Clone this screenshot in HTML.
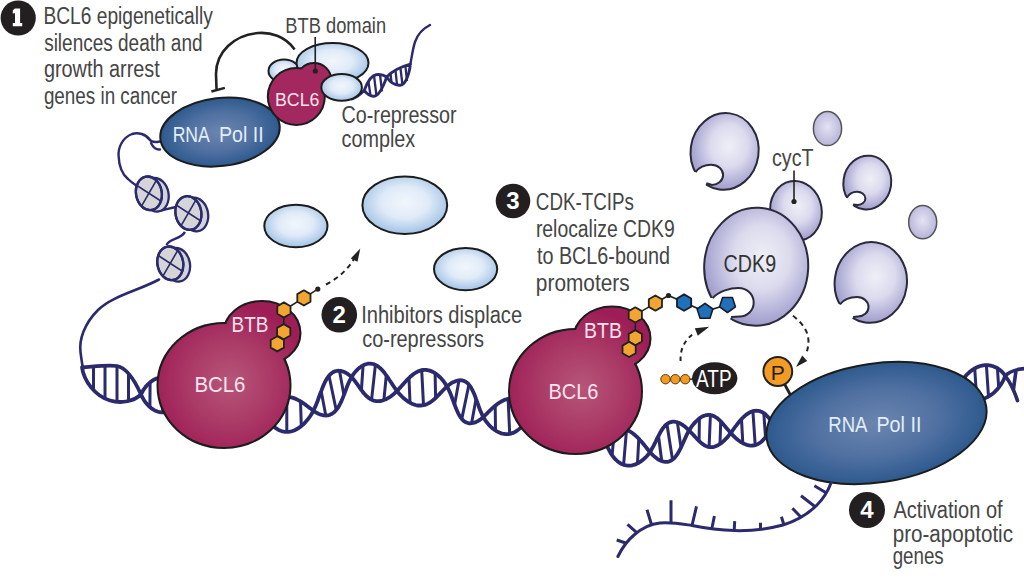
<!DOCTYPE html>
<html><head><meta charset="utf-8"><title>BCL6 CDK-TCIP mechanism</title>
<style>html,body{margin:0;padding:0;background:#fff;}svg{display:block;font-family:"Liberation Sans",sans-serif;}</style>
</head><body>
<svg width="1024" height="579" viewBox="0 0 1024 579">
<rect width="1024" height="579" fill="#fff"/>
<defs>
<radialGradient id="gBlue" cx="0.5" cy="0.45" r="0.55">
  <stop offset="0" stop-color="#f2f6fc"/><stop offset="0.5" stop-color="#e0ebf8"/><stop offset="1" stop-color="#a2c3e6"/>
</radialGradient>
<radialGradient id="gPol" cx="0.5" cy="0.5" r="0.55">
  <stop offset="0" stop-color="#6b85af"/><stop offset="0.5" stop-color="#5171a2"/><stop offset="0.85" stop-color="#335d91"/><stop offset="1" stop-color="#1e5283"/>
</radialGradient>
<radialGradient id="gBcl" cx="0.5" cy="0.5" r="0.55">
  <stop offset="0" stop-color="#b65a82"/><stop offset="0.6" stop-color="#a8386a"/><stop offset="1" stop-color="#991b55"/>
</radialGradient>
<radialGradient id="gBtb1" gradientUnits="userSpaceOnUse" cx="230" cy="382" r="78">
  <stop offset="0" stop-color="#b65679"/><stop offset="0.55" stop-color="#aa3966"/><stop offset="1" stop-color="#9d1e56"/>
</radialGradient>
<radialGradient id="gBtb2" gradientUnits="userSpaceOnUse" cx="581.5" cy="388" r="78">
  <stop offset="0" stop-color="#b65679"/><stop offset="0.55" stop-color="#aa3966"/><stop offset="1" stop-color="#9d1e56"/>
</radialGradient>
<radialGradient id="gBcl0" cx="0.5" cy="0.55" r="0.6">
  <stop offset="0" stop-color="#b04a76"/><stop offset="1" stop-color="#9c1f57"/>
</radialGradient>
<radialGradient id="gCdk" cx="0.55" cy="0.42" r="0.6">
  <stop offset="0" stop-color="#efeff7"/><stop offset="0.45" stop-color="#dcdbee"/><stop offset="1" stop-color="#9b98ca"/>
</radialGradient>
<radialGradient id="gCyc" cx="0.5" cy="0.45" r="0.6">
  <stop offset="0" stop-color="#e4e3f2"/><stop offset="1" stop-color="#b3b0d8"/>
</radialGradient>
<radialGradient id="gNuc" cx="0.5" cy="0.5" r="0.6">
  <stop offset="0" stop-color="#d9d9d9"/><stop offset="1" stop-color="#cfcfd2"/>
</radialGradient>
</defs>
<path d="M149.9 407 L150.1 382.3 M162.9 412.4 L163.1 377.4 M177.2 407.5 L177.2 382.7 M201.8 406.8 L201.4 382.1 M213.4 411 L212.7 376 M223.3 405 L222.7 380.3" stroke="#2b2a6c" stroke-width="3.0" fill="none"/>
<path d="M141 394.5 L141.7 393.1 L142.4 391.8 L143.1 390.4 L144 389.1 L144.9 387.9 L145.8 386.6 L146.8 385.5 L147.9 384.3 L149 383.3 L150.1 382.3 L151.3 381.4 L152.5 380.6 L153.7 379.8 L155 379.2 L156.3 378.6 L157.6 378.2 L158.9 377.8 L160.3 377.6 L161.7 377.5 L163.1 377.4 L164.5 377.5 L165.9 377.7 L167.3 378 L168.8 378.4 L170.2 378.9 L171.6 379.5 L173 380.2 L174.4 380.9 L175.9 381.8 L177.2 382.7 L178.6 383.7 L180 384.8 L181.3 386 L182.7 387.2 L184 388.4 L185.2 389.7 L186.5 391 L187.7 392.3 L188.9 393.7 L190 395 L190 395 L191.1 396.3 L192.3 397.7 L193.4 399 L194.6 400.2 L195.8 401.5 L197 402.7 L198.2 403.8 L199.4 404.9 L200.6 405.9 L201.8 406.8 L203 407.7 L204.2 408.4 L205.4 409.1 L206.6 409.7 L207.7 410.2 L208.9 410.5 L210.1 410.8 L211.2 411 L212.3 411.1 L213.4 411 L214.5 410.9 L215.6 410.6 L216.7 410.3 L217.7 409.8 L218.7 409.2 L219.7 408.6 L220.6 407.8 L221.6 406.9 L222.4 406 L223.3 405 L224.1 403.9 L224.9 402.7 L225.7 401.5 L226.4 400.3 L227.1 399 L227.8 397.6 L228.4 396.2 L229 394.8 L229.5 393.4 L230 392" fill="none" stroke="#2b2a6c" stroke-width="3.8" stroke-linejoin="round" stroke-linecap="round"/>
<path d="M141 394.5 L141.6 395.9 L142.3 397.3 L143.1 398.6 L143.9 400 L144.8 401.3 L145.7 402.5 L146.7 403.7 L147.8 404.9 L148.8 406 L149.9 407 L151.1 408 L152.3 408.9 L153.5 409.7 L154.8 410.4 L156.1 411 L157.4 411.5 L158.8 411.9 L160.1 412.2 L161.5 412.4 L162.9 412.4 L164.3 412.4 L165.8 412.3 L167.2 412 L168.6 411.7 L170.1 411.2 L171.5 410.7 L173 410 L174.4 409.2 L175.8 408.4 L177.2 407.5 L178.6 406.5 L180 405.4 L181.3 404.3 L182.7 403.1 L184 401.8 L185.3 400.5 L186.5 399.2 L187.7 397.8 L188.9 396.4 L190 395 L190 395 L191.1 393.6 L192.2 392.2 L193.3 390.8 L194.5 389.4 L195.6 388.1 L196.8 386.8 L197.9 385.5 L199.1 384.3 L200.2 383.1 L201.4 382.1 L202.5 381 L203.7 380.1 L204.8 379.3 L206 378.5 L207.1 377.8 L208.2 377.3 L209.4 376.8 L210.5 376.4 L211.6 376.2 L212.7 376 L213.8 376 L214.8 376.1 L215.9 376.2 L216.9 376.5 L218 376.9 L219 377.4 L219.9 378 L220.9 378.6 L221.8 379.4 L222.7 380.3 L223.6 381.2 L224.5 382.2 L225.3 383.2 L226.1 384.4 L226.8 385.6 L227.5 386.8 L228.2 388.1 L228.9 389.3 L229.5 390.7 L230 392" fill="none" stroke="#2b2a6c" stroke-width="3.8" stroke-linejoin="round" stroke-linecap="round"/>
<path d="M82 367.5 C95 366.5 108 364.5 117 366 C127 368 135 381 141 394.5 M82 367.5 C84 381 95 396 110 400.5 C122 404 134 401 141 394.5" fill="none" stroke="#2b2a6c" stroke-width="3.8" stroke-linecap="round"/>
<path d="M93.5 366.5 L93.5 390 M105 365.3 L105 399.5 M117 366 L117 402.5 M128.5 373 L128.5 402" stroke="#2b2a6c" stroke-width="3"/>
<path d="M273.8 426.5 L274.1 401.7 M286.8 431.9 L286.8 396.9 M301.3 426.1 L300.5 401.4 M325.8 415.5 L321.2 391.2 M336.2 410 L329 375.8 M343.9 395.1 L339.5 370.8 M361.4 390.1 L363.1 365.4 M371.6 399.7 L375.4 364.9 M383.9 400 L386.3 375.4 M410 402.7 L409 378 M423.5 405.2 L421.7 370.2 M435.6 398 L435.1 373.2 M454.6 404.7 L459 380.3 M461.8 418.9 L468.9 384.7 M471.6 423.2 L476 398.9 M495.5 430.5 L495.2 405.8 M509.7 433.9 L508.1 398.9 M522.1 426.1 L520.7 401.4" stroke="#2b2a6c" stroke-width="3.0" fill="none"/>
<path d="M265 414 L265.7 415.3 L266.4 416.7 L267.1 418 L267.9 419.3 L268.8 420.6 L269.7 421.9 L270.6 423.1 L271.7 424.3 L272.7 425.4 L273.8 426.5 L275 427.5 L276.2 428.4 L277.4 429.2 L278.6 429.9 L279.9 430.5 L281.3 431 L282.6 431.4 L284 431.7 L285.4 431.9 L286.8 431.9 L288.2 431.9 L289.7 431.7 L291.1 431.4 L292.6 431 L294.1 430.5 L295.5 429.8 L297 429 L298.4 428.2 L299.9 427.2 L301.3 426.1 L302.7 424.9 L304 423.6 L305.3 422.3 L306.6 420.8 L307.9 419.3 L309.1 417.7 L310.3 416 L311.4 414.3 L312.4 412.5 L313.4 410.7 L313.4 410.7 L314.3 408.8 L315.2 406.9 L316 405 L316.8 403 L317.6 401 L318.3 399 L319 397 L319.7 395.1 L320.4 393.1 L321.2 391.2 L321.9 389.3 L322.6 387.5 L323.3 385.7 L324.1 384.1 L324.8 382.4 L325.6 380.9 L326.4 379.5 L327.3 378.1 L328.1 376.9 L329 375.8 L329.9 374.7 L330.9 373.8 L331.9 373 L332.9 372.3 L333.9 371.8 L335 371.3 L336.1 371 L337.2 370.8 L338.3 370.7 L339.5 370.8 L340.7 370.9 L341.9 371.2 L343.1 371.6 L344.3 372.1 L345.6 372.7 L346.8 373.4 L348 374.2 L349.2 375.1 L350.4 376.1 L351.5 377.2 L351.5 377.2 L352.6 378.4 L353.7 379.6 L354.7 380.8 L355.7 382.2 L356.7 383.5 L357.7 384.8 L358.6 386.2 L359.5 387.5 L360.5 388.8 L361.4 390.1 L362.4 391.3 L363.3 392.6 L364.3 393.7 L365.3 394.8 L366.3 395.8 L367.3 396.8 L368.3 397.6 L369.4 398.4 L370.5 399.1 L371.6 399.7 L372.7 400.2 L373.9 400.6 L375.1 400.9 L376.3 401.1 L377.5 401.2 L378.8 401.1 L380 401 L381.3 400.8 L382.6 400.5 L383.9 400 L385.3 399.5 L386.6 398.9 L387.9 398.2 L389.3 397.4 L390.6 396.5 L391.9 395.5 L393.2 394.5 L394.5 393.4 L395.8 392.2 L397 391 L397 391 L398.2 389.7 L399.4 388.4 L400.6 387.1 L401.8 385.7 L403 384.4 L404.2 383 L405.4 381.7 L406.6 380.4 L407.8 379.2 L409 378 L410.2 376.8 L411.5 375.7 L412.7 374.7 L413.9 373.8 L415.2 373 L416.5 372.2 L417.7 371.6 L419 371 L420.3 370.6 L421.7 370.2 L423 370 L424.3 369.9 L425.7 369.9 L427 370 L428.4 370.3 L429.7 370.6 L431.1 371.1 L432.4 371.7 L433.8 372.4 L435.1 373.2 L436.4 374.1 L437.7 375.2 L439 376.3 L440.3 377.5 L441.5 378.8 L442.7 380.2 L443.8 381.7 L444.9 383.2 L446 384.8 L447 386.5 L447 386.5 L447.9 388.2 L448.8 390 L449.7 391.8 L450.5 393.7 L451.2 395.5 L451.9 397.4 L452.6 399.2 L453.3 401.1 L453.9 402.9 L454.6 404.7 L455.3 406.4 L455.9 408.1 L456.6 409.7 L457.3 411.3 L458 412.8 L458.7 414.2 L459.4 415.5 L460.2 416.7 L461 417.9 L461.8 418.9 L462.6 419.8 L463.5 420.7 L464.4 421.4 L465.3 422 L466.3 422.5 L467.3 422.8 L468.3 423.1 L469.4 423.3 L470.5 423.3 L471.6 423.2 L472.7 423 L473.9 422.8 L475.1 422.4 L476.2 421.9 L477.4 421.3 L478.6 420.6 L479.8 419.8 L481 419 L482.2 418 L483.3 417 L483.3 417 L484.4 415.9 L485.6 414.8 L486.8 413.7 L487.9 412.5 L489.1 411.3 L490.3 410.2 L491.5 409 L492.7 407.9 L494 406.8 L495.2 405.8 L496.5 404.7 L497.7 403.8 L499 402.9 L500.3 402.1 L501.6 401.3 L502.9 400.7 L504.2 400.1 L505.5 399.6 L506.8 399.2 L508.1 398.9 L509.4 398.7 L510.7 398.6 L512 398.6 L513.3 398.7 L514.6 398.9 L515.8 399.2 L517.1 399.6 L518.3 400.1 L519.5 400.7 L520.7 401.4 L521.8 402.1 L522.9 403 L524 403.9 L525 404.9 L526 405.9 L526.9 407.1 L527.8 408.2 L528.6 409.4 L529.3 410.7 L530 412" fill="none" stroke="#2b2a6c" stroke-width="3.8" stroke-linejoin="round" stroke-linecap="round"/>
<path d="M265 414 L265.6 412.6 L266.3 411.2 L267.1 409.9 L267.9 408.5 L268.8 407.3 L269.8 406 L270.8 404.9 L271.8 403.7 L272.9 402.7 L274.1 401.7 L275.2 400.9 L276.4 400 L277.6 399.3 L278.9 398.7 L280.2 398.2 L281.5 397.7 L282.8 397.4 L284.1 397.1 L285.5 397 L286.8 396.9 L288.2 397 L289.6 397.1 L290.9 397.4 L292.3 397.7 L293.7 398.1 L295.1 398.6 L296.4 399.2 L297.8 399.9 L299.2 400.6 L300.5 401.4 L301.9 402.2 L303.2 403.1 L304.5 404 L305.8 404.9 L307.1 405.9 L308.4 406.9 L309.7 407.9 L310.9 408.8 L312.2 409.8 L313.4 410.7 L313.4 410.7 L314.6 411.6 L315.9 412.4 L317.1 413.1 L318.4 413.7 L319.6 414.2 L320.9 414.7 L322.2 415 L323.4 415.3 L324.6 415.4 L325.8 415.5 L327 415.4 L328.1 415.3 L329.2 415 L330.3 414.6 L331.4 414.1 L332.4 413.5 L333.4 412.8 L334.4 412 L335.3 411 L336.2 410 L337.1 408.9 L338 407.7 L338.8 406.3 L339.6 404.9 L340.3 403.5 L341.1 401.9 L341.8 400.3 L342.5 398.6 L343.2 396.9 L343.9 395.1 L344.6 393.3 L345.2 391.5 L345.9 389.7 L346.6 387.8 L347.3 386 L348.1 384.1 L348.9 382.3 L349.7 380.6 L350.6 378.9 L351.5 377.2 L351.5 377.2 L352.5 375.6 L353.5 374.1 L354.6 372.7 L355.7 371.3 L356.9 370.1 L358.1 368.9 L359.3 367.9 L360.6 367 L361.8 366.1 L363.1 365.4 L364.3 364.8 L365.6 364.3 L366.9 364 L368.1 363.7 L369.4 363.6 L370.6 363.6 L371.9 363.8 L373.1 364 L374.3 364.4 L375.4 364.9 L376.6 365.5 L377.7 366.2 L378.9 367.1 L380 368 L381.1 369 L382.1 370.1 L383.2 371.3 L384.3 372.6 L385.3 374 L386.3 375.4 L387.4 376.9 L388.4 378.4 L389.4 380 L390.5 381.5 L391.5 383.1 L392.6 384.8 L393.6 386.3 L394.7 387.9 L395.9 389.5 L397 391 L397 391 L398.2 392.5 L399.4 393.9 L400.6 395.2 L401.9 396.5 L403.2 397.8 L404.6 398.9 L405.9 400 L407.3 401 L408.6 401.9 L410 402.7 L411.4 403.4 L412.7 404 L414.1 404.5 L415.5 405 L416.9 405.3 L418.2 405.5 L419.5 405.5 L420.9 405.5 L422.2 405.4 L423.5 405.2 L424.8 404.9 L426 404.4 L427.3 403.9 L428.5 403.3 L429.7 402.6 L430.9 401.8 L432.1 400.9 L433.3 400 L434.5 399 L435.6 398 L436.8 396.9 L437.9 395.7 L439 394.6 L440.1 393.4 L441.3 392.2 L442.4 391 L443.5 389.8 L444.7 388.7 L445.8 387.6 L447 386.5 L447 386.5 L448.2 385.5 L449.4 384.6 L450.6 383.7 L451.8 382.9 L453 382.2 L454.3 381.7 L455.5 381.2 L456.7 380.8 L457.8 380.5 L459 380.3 L460.1 380.2 L461.2 380.3 L462.3 380.4 L463.3 380.7 L464.4 381.1 L465.3 381.6 L466.3 382.2 L467.2 382.9 L468.1 383.7 L468.9 384.7 L469.8 385.7 L470.5 386.8 L471.3 388.1 L472 389.4 L472.7 390.8 L473.4 392.3 L474.1 393.8 L474.8 395.5 L475.4 397.1 L476 398.9 L476.7 400.7 L477.3 402.5 L478 404.3 L478.6 406.2 L479.3 408 L480 409.9 L480.8 411.7 L481.6 413.5 L482.4 415.3 L483.3 417 L483.3 417 L484.3 418.7 L485.3 420.3 L486.4 421.8 L487.6 423.3 L488.8 424.7 L490.1 426.1 L491.4 427.3 L492.7 428.5 L494.1 429.5 L495.5 430.5 L496.9 431.4 L498.3 432.1 L499.8 432.7 L501.2 433.3 L502.6 433.7 L504.1 433.9 L505.5 434.1 L506.9 434.2 L508.3 434.1 L509.7 433.9 L511.1 433.6 L512.4 433.1 L513.8 432.6 L515.1 432 L516.3 431.2 L517.5 430.4 L518.7 429.4 L519.9 428.4 L521 427.3 L522.1 426.1 L523.1 424.8 L524.1 423.5 L525 422.2 L525.8 420.8 L526.7 419.3 L527.4 417.9 L528.2 416.4 L528.8 414.9 L529.4 413.4 L530 412" fill="none" stroke="#2b2a6c" stroke-width="3.8" stroke-linejoin="round" stroke-linecap="round"/>
<path d="M612.1 455.3 L614.4 430.6 M623.6 464.8 L626.5 429.9 M637.5 463.4 L638.8 438.7 M661.7 461 L658.5 435.8 M672.5 459.6 L666.9 424.1 M681 447.6 L677.4 422.4 M699.1 441 L699.4 418.4 M709.1 447 L710.4 415 M720 444 L720.7 421.4 M742.8 443.1 L741.5 419.1 M755.2 445.1 L752.9 411.2 M765.5 437.1 L763.8 413.1" stroke="#2b2a6c" stroke-width="3.0" fill="none"/>
<path d="M605 440 L605.7 438.8 L606.5 437.6 L607.3 436.5 L608.2 435.5 L609.1 434.5 L610.1 433.6 L611.1 432.7 L612.1 431.9 L613.2 431.2 L614.4 430.6 L615.5 430.1 L616.7 429.7 L617.9 429.3 L619.1 429.1 L620.3 429 L621.5 429 L622.8 429 L624 429.2 L625.2 429.5 L626.5 429.9 L627.8 430.4 L629 431 L630.2 431.7 L631.5 432.4 L632.7 433.3 L633.9 434.2 L635.2 435.3 L636.4 436.4 L637.6 437.5 L638.8 438.7 L639.9 440 L641.1 441.3 L642.2 442.6 L643.4 444 L644.5 445.3 L645.6 446.7 L646.7 448.1 L647.8 449.4 L648.9 450.7 L650 452 L650 452 L651.1 453.3 L652.2 454.5 L653.4 455.6 L654.6 456.6 L655.7 457.6 L656.9 458.5 L658.1 459.3 L659.3 460 L660.5 460.6 L661.7 461 L662.9 461.4 L664 461.7 L665.2 461.8 L666.3 461.9 L667.4 461.8 L668.5 461.6 L669.5 461.3 L670.6 460.8 L671.6 460.3 L672.5 459.6 L673.5 458.8 L674.4 458 L675.3 457 L676.1 455.9 L677 454.7 L677.8 453.4 L678.6 452.1 L679.4 450.6 L680.2 449.1 L681 447.6 L681.7 446 L682.5 444.3 L683.2 442.6 L684 440.9 L684.8 439.1 L685.6 437.4 L686.4 435.6 L687.2 433.9 L688.1 432.2 L689 430.5 L689 430.5 L690 429 L690.9 427.6 L691.9 426.2 L692.9 424.9 L694 423.6 L695.1 422.4 L696.1 421.3 L697.2 420.3 L698.3 419.3 L699.4 418.4 L700.5 417.6 L701.6 416.9 L702.8 416.3 L703.9 415.8 L705 415.5 L706.1 415.2 L707.2 415 L708.3 414.9 L709.4 414.9 L710.4 415 L711.5 415.3 L712.5 415.6 L713.6 416 L714.6 416.5 L715.6 417.2 L716.7 417.8 L717.7 418.6 L718.7 419.5 L719.7 420.4 L720.7 421.4 L721.7 422.4 L722.6 423.5 L723.6 424.6 L724.6 425.8 L725.6 427 L726.6 428.2 L727.7 429.4 L728.7 430.6 L729.7 431.8 L730.8 433 L730.8 433 L731.9 434.2 L733 435.4 L734.2 436.6 L735.3 437.7 L736.5 438.8 L737.7 439.8 L739 440.7 L740.2 441.6 L741.5 442.4 L742.8 443.1 L744 443.8 L745.3 444.3 L746.6 444.8 L747.8 445.1 L749.1 445.4 L750.3 445.6 L751.6 445.6 L752.8 445.5 L754 445.4 L755.2 445.1 L756.3 444.7 L757.5 444.3 L758.6 443.7 L759.6 443 L760.7 442.2 L761.7 441.4 L762.7 440.4 L763.7 439.4 L764.6 438.3 L765.5 437.1 L766.3 435.8 L767.1 434.5 L767.9 433.2 L768.6 431.8 L769.3 430.3 L769.9 428.9 L770.5 427.4 L771 425.9 L771.5 424.5 L772 423" fill="none" stroke="#2b2a6c" stroke-width="3.8" stroke-linejoin="round" stroke-linecap="round"/>
<path d="M605 440 L605.5 441.5 L606 443.1 L606.6 444.7 L607.2 446.3 L607.9 447.8 L608.7 449.4 L609.5 450.9 L610.3 452.4 L611.2 453.9 L612.1 455.3 L613.1 456.6 L614.1 457.9 L615.2 459.1 L616.3 460.2 L617.4 461.2 L618.6 462.1 L619.8 462.9 L621 463.7 L622.3 464.3 L623.6 464.8 L625 465.2 L626.3 465.4 L627.7 465.6 L629.1 465.6 L630.5 465.6 L631.9 465.4 L633.3 465 L634.7 464.6 L636.1 464.1 L637.5 463.4 L638.9 462.7 L640.2 461.8 L641.6 460.9 L642.9 459.8 L644.2 458.7 L645.5 457.5 L646.7 456.2 L647.8 454.9 L649 453.5 L650 452 L650 452 L651 450.4 L651.9 448.8 L652.8 447.2 L653.7 445.6 L654.5 443.9 L655.4 442.2 L656.2 440.6 L656.9 438.9 L657.7 437.3 L658.5 435.8 L659.3 434.3 L660.1 432.8 L660.9 431.4 L661.7 430.1 L662.5 428.9 L663.3 427.7 L664.2 426.7 L665 425.7 L665.9 424.8 L666.9 424.1 L667.8 423.4 L668.8 422.8 L669.8 422.4 L670.8 422.1 L671.9 421.8 L672.9 421.7 L674 421.7 L675.1 421.8 L676.3 422 L677.4 422.4 L678.6 422.8 L679.8 423.3 L680.9 423.9 L682.1 424.6 L683.3 425.4 L684.5 426.3 L685.6 427.2 L686.8 428.3 L687.9 429.4 L689 430.5 L689 430.5 L690.1 431.5 L691.1 432.6 L692.2 433.7 L693.2 434.8 L694.2 435.9 L695.2 437 L696.2 438 L697.2 439.1 L698.1 440.1 L699.1 441 L700.1 442 L701.1 442.8 L702 443.6 L703 444.3 L704 445 L705 445.6 L706 446.1 L707 446.5 L708.1 446.8 L709.1 447 L710.1 447.1 L711.2 447.2 L712.3 447.1 L713.4 447 L714.4 446.7 L715.5 446.3 L716.6 445.9 L717.8 445.3 L718.9 444.7 L720 444 L721.1 443.2 L722.2 442.3 L723.3 441.4 L724.4 440.3 L725.5 439.2 L726.6 438.1 L727.7 436.9 L728.7 435.6 L729.8 434.3 L730.8 433 L730.8 433 L731.8 431.6 L732.8 430.1 L733.9 428.7 L734.9 427.2 L736 425.8 L737.1 424.4 L738.2 423 L739.2 421.7 L740.4 420.4 L741.5 419.1 L742.6 418 L743.7 416.9 L744.9 415.8 L746 414.9 L747.1 414.1 L748.3 413.3 L749.4 412.6 L750.6 412 L751.7 411.6 L752.9 411.2 L754 410.9 L755.1 410.8 L756.3 410.7 L757.4 410.8 L758.5 410.9 L759.6 411.1 L760.7 411.5 L761.7 411.9 L762.7 412.5 L763.8 413.1 L764.7 413.8 L765.7 414.6 L766.6 415.5 L767.5 416.4 L768.4 417.4 L769.2 418.4 L770 419.5 L770.7 420.6 L771.4 421.8 L772 423" fill="none" stroke="#2b2a6c" stroke-width="3.8" stroke-linejoin="round" stroke-linecap="round"/>
<path d="M965.8 396.7 L964.5 377.3 M976.8 399.7 L974.7 368.4 M988.5 396.5 L986.4 365.2 M998.7 387.6 L997.4 368.2" stroke="#2b2a6c" stroke-width="3.0" fill="none"/>
<path d="M958 389 L958.7 390.1 L959.5 391.2 L960.4 392.2 L961.4 393.2 L962.4 394.2 L963.5 395.1 L964.6 395.9 L965.8 396.7 L967.1 397.4 L968.4 398 L969.7 398.5 L971.1 398.9 L972.5 399.3 L973.9 399.5 L975.3 399.7 L976.8 399.7 L978.3 399.7 L979.8 399.5 L981.2 399.3 L982.7 398.9 L984.2 398.5 L985.6 397.9 L987.1 397.2 L988.5 396.5 L989.9 395.6 L991.3 394.7 L992.6 393.7 L993.9 392.6 L995.2 391.4 L996.4 390.2 L997.6 388.9 L998.7 387.6 L999.7 386.2 L1000.7 384.8 L1001.7 383.3 L1002.5 381.8 L1003.3 380.3 L1004 378.9 L1004.7 377.4 L1005.2 375.9" fill="none" stroke="#2b2a6c" stroke-width="3.8" stroke-linejoin="round" stroke-linecap="round"/>
<path d="M958 389 L958.5 387.5 L959.2 386 L959.9 384.6 L960.7 383.1 L961.5 381.6 L962.5 380.1 L963.5 378.7 L964.5 377.3 L965.6 376 L966.8 374.7 L968 373.5 L969.3 372.3 L970.6 371.2 L971.9 370.2 L973.3 369.3 L974.7 368.4 L976.1 367.7 L977.6 367 L979 366.4 L980.5 366 L982 365.6 L983.4 365.4 L984.9 365.2 L986.4 365.2 L987.9 365.2 L989.3 365.4 L990.7 365.6 L992.1 366 L993.5 366.4 L994.8 366.9 L996.1 367.5 L997.4 368.2 L998.6 369 L999.7 369.8 L1000.8 370.7 L1001.8 371.7 L1002.8 372.7 L1003.7 373.7 L1004.5 374.8 L1005.2 375.9" fill="none" stroke="#2b2a6c" stroke-width="3.8" stroke-linejoin="round" stroke-linecap="round"/>
<path d="M1005.2 375.9 C1010 371 1016 369 1026 368.5 M1005.2 375.9 C1010 382 1014 390 1017.5 400.6 M1016 370.5 L1013.5 389" fill="none" stroke="#2b2a6c" stroke-width="3.6" stroke-linecap="round"/>
<path d="M159 279.5 C140 290 112 296 98 310 C84 324 79 340 80.5 352 C81.5 360 82 364 83 368" fill="none" stroke="#2b2a6c" stroke-width="2.6" stroke-linecap="round"/>
<path d="M160 141.5 C156 142 152 143 150 140 C146 134 138 132 132 134 C122 138 118 148 118.6 156 C119 166 122 174 128 179 C131 182 134 184 137 186" fill="none" stroke="#2b2a6c" stroke-width="2.4" stroke-linecap="round"/>
<path d="M160 149.5 C156 150 153 147 151 143" fill="none" stroke="#2b2a6c" stroke-width="2.4" stroke-linecap="round"/>
<path d="M154 210.5 C162 212 168 208 176 207" fill="none" stroke="#2b2a6c" stroke-width="2.4"/>
<path d="M185 232 C180 240 170 238 166.5 245" fill="none" stroke="#2b2a6c" stroke-width="2.4"/>
<clipPath id="nc1"><ellipse cx="148.9" cy="193.3" rx="12.9" ry="16.9" transform="rotate(-10 148.9 193.3)"/></clipPath><ellipse cx="155.7" cy="194.8" rx="12.9" ry="16.9" transform="rotate(-10 155.7 194.8)" fill="#d3d3da" stroke="#2b2a6c" stroke-width="2.3"/><ellipse cx="148.9" cy="193.3" rx="12.9" ry="16.9" transform="rotate(-10 148.9 193.3)" fill="#d5d5d7" stroke="#2b2a6c" stroke-width="2.3"/><path d="M127.9 179.7 L169.9 206.9 M136.4 215 L161.4 171.6 " stroke="#2b2a6c" stroke-width="1.6" clip-path="url(#nc1)"/><ellipse cx="148.9" cy="193.3" rx="12.9" ry="16.9" transform="rotate(-10 148.9 193.3)" fill="none" stroke="#2b2a6c" stroke-width="2.3"/>
<clipPath id="nc2"><ellipse cx="188.4" cy="213" rx="12.9" ry="16.9" transform="rotate(-10 188.4 213)"/></clipPath><ellipse cx="195.2" cy="214.5" rx="12.9" ry="16.9" transform="rotate(-10 195.2 214.5)" fill="#d3d3da" stroke="#2b2a6c" stroke-width="2.3"/><ellipse cx="188.4" cy="213" rx="12.9" ry="16.9" transform="rotate(-10 188.4 213)" fill="#d5d5d7" stroke="#2b2a6c" stroke-width="2.3"/><path d="M167.4 199.4 L209.4 226.6 M175.9 234.7 L200.9 191.3 " stroke="#2b2a6c" stroke-width="1.6" clip-path="url(#nc2)"/><ellipse cx="188.4" cy="213" rx="12.9" ry="16.9" transform="rotate(-10 188.4 213)" fill="none" stroke="#2b2a6c" stroke-width="2.3"/>
<clipPath id="nc3"><ellipse cx="170.3" cy="263.3" rx="12.9" ry="16.9" transform="rotate(-10 170.3 263.3)"/></clipPath><ellipse cx="177.1" cy="264.8" rx="12.9" ry="16.9" transform="rotate(-10 177.1 264.8)" fill="#d3d3da" stroke="#2b2a6c" stroke-width="2.3"/><ellipse cx="170.3" cy="263.3" rx="12.9" ry="16.9" transform="rotate(-10 170.3 263.3)" fill="#d5d5d7" stroke="#2b2a6c" stroke-width="2.3"/><path d="M149.3 249.7 L191.3 276.9 M157.8 285 L182.8 241.6 " stroke="#2b2a6c" stroke-width="1.6" clip-path="url(#nc3)"/><ellipse cx="170.3" cy="263.3" rx="12.9" ry="16.9" transform="rotate(-10 170.3 263.3)" fill="none" stroke="#2b2a6c" stroke-width="2.3"/>
<path d="M352 99 C357 97 361 94 364.2 90.4 M364.2 90.4 C367 83 371 75.5 376 74.8 C381 74 384.5 75.5 386.7 77 M364.2 90.4 C367 94 370 96.5 374 96.3 C379 96 383.5 86 386.7 77 M386.7 77 C393 70 400 67 410.4 64.1 M386.7 77 C390 82 395 85.5 400 85.2 C405 85 409 76 410.4 64.1" fill="none" stroke="#2b2a6c" stroke-width="2.9" stroke-linecap="round"/>
<path d="M368.5 82 L370.5 95.5 M374 75.5 L376.5 96 M380 74.5 L382 91.5 M390.5 73.5 L391.5 82.5 M395.5 70.5 L397 85 M400.5 68.5 L402.5 85 M405.5 66.8 L407 81" stroke="#2b2a6c" stroke-width="2.3"/>
<path d="M410.4 64.1 C412 55 413 48 415 42 C418 33 424 28 430 25" fill="none" stroke="#2b2a6c" stroke-width="2.4" stroke-linecap="round"/>
<path d="M294.6 49.4 C285 36 270 32 258 33 C234 35 216 52 216 74 L216.5 89" fill="none" stroke="#222" stroke-width="2.6"/>
<path d="M211.4 91.5 L224.9 87.8" stroke="#222" stroke-width="2.4"/>
<ellipse cx="220" cy="132.1" rx="60" ry="34" transform="rotate(-6.7 220 132.1)" fill="url(#gPol)" stroke="#1c1c1c" stroke-width="2"/>
<text x="172.64" y="141.7" font-size="22.5" fill="#e2edf8" font-weight="normal" text-anchor="start" textLength="37.21" lengthAdjust="spacingAndGlyphs">RNA</text>
<text x="219.02" y="141.7" font-size="22.5" fill="#e2edf8" font-weight="normal" text-anchor="start" textLength="44.69" lengthAdjust="spacingAndGlyphs">Pol II</text>
<ellipse cx="284" cy="71" rx="15.5" ry="11.5" fill="url(#gBlue)" stroke="#1c1c1c" stroke-width="2"/>
<ellipse cx="332.5" cy="63" rx="36" ry="20" fill="url(#gBlue)" stroke="#1c1c1c" stroke-width="2"/>
<g><circle cx="296.3" cy="96.5" r="27.5" fill="none" stroke="#1c1c1c" stroke-width="4"/><circle cx="314" cy="80.5" r="16.5" fill="none" stroke="#1c1c1c" stroke-width="4"/>
<circle cx="296.3" cy="96.5" r="27.5" fill="#a3285f"/><circle cx="314" cy="80.5" r="16.5" fill="#a3285f"/></g>
<ellipse cx="341.6" cy="87.4" rx="20.3" ry="13.4" fill="url(#gBlue)" stroke="#1c1c1c" stroke-width="2"/>
<text x="274.98" y="106" font-size="19" fill="#fbe3ee" font-weight="normal" text-anchor="start" textLength="44.43" lengthAdjust="spacingAndGlyphs">BCL6</text>
<path d="M315.2 37 L315.3 71" stroke="#222" stroke-width="1.6"/><circle cx="315.3" cy="71" r="2.6" fill="#222"/>
<ellipse cx="295.9" cy="226" rx="31.6" ry="21.2" fill="url(#gBlue)" stroke="#1c1c1c" stroke-width="2"/>
<ellipse cx="404.8" cy="205.2" rx="42.4" ry="28.7" fill="url(#gBlue)" stroke="#1c1c1c" stroke-width="2"/>
<ellipse cx="465.6" cy="269.1" rx="31.6" ry="21.1" fill="url(#gBlue)" stroke="#1c1c1c" stroke-width="2"/>
<path d="M326 284.5 C336 279 346 272 354 259" fill="none" stroke="#222" stroke-width="2" stroke-dasharray="5 4"/>
<path d="M360.3 248.5 L350.7 258.5 L357.5 261.8 Z" fill="#222"/>
<g><ellipse cx="224" cy="385.5" rx="65.5" ry="61.5" fill="none" stroke="#1c1c1c" stroke-width="4"/><ellipse cx="262" cy="333" rx="37.5" ry="31" fill="none" stroke="#1c1c1c" stroke-width="4"/><ellipse cx="262" cy="333" rx="37.5" ry="31" fill="url(#gBtb1)"/><ellipse cx="224" cy="385.5" rx="65.5" ry="61.5" fill="url(#gBtb1)"/></g>
<text x="194.42" y="392.2" font-size="22" fill="#fbe3ee" font-weight="normal" text-anchor="start" textLength="51.05" lengthAdjust="spacingAndGlyphs">BCL6</text>
<text x="231.60" y="331.7" font-size="22.5" fill="#fbe3ee" font-weight="normal" text-anchor="start" textLength="36.91" lengthAdjust="spacingAndGlyphs">BTB</text>
<path d="M283.9 310 L303.9 297.9 L317.8 289.1 M283.9 310 L283.7 331.7" stroke="#222" stroke-width="1.6" fill="none"/>
<circle cx="317.8" cy="289.1" r="2.6" fill="#222"/>
<path d="M283.9 302.4 L277.3 306.2 L277.3 313.8 L283.9 317.6 L290.5 313.8 L290.5 306.2 Z" fill="#f4a52f" stroke="#222" stroke-width="1.8" stroke-linejoin="round"/>
<path d="M303.9 290.3 L297.3 294.1 L297.3 301.7 L303.9 305.5 L310.5 301.7 L310.5 294.1 Z" fill="#f4a52f" stroke="#222" stroke-width="1.8" stroke-linejoin="round"/>
<path d="M283.7 324.1 L277.1 327.9 L277.1 335.5 L283.7 339.3 L290.3 335.5 L290.3 327.9 Z" fill="#f4a52f" stroke="#222" stroke-width="1.8" stroke-linejoin="round"/>
<path d="M277.3 336.2 L270.7 340 L270.7 347.6 L277.3 351.4 L283.9 347.6 L283.9 340 Z" fill="#f4a52f" stroke="#222" stroke-width="1.8" stroke-linejoin="round"/>
<g><ellipse cx="575.5" cy="391.5" rx="65.5" ry="61.5" fill="none" stroke="#1c1c1c" stroke-width="4"/><ellipse cx="612" cy="338.5" rx="37.5" ry="31" fill="none" stroke="#1c1c1c" stroke-width="4"/><ellipse cx="612" cy="338.5" rx="37.5" ry="31" fill="url(#gBtb2)"/><ellipse cx="575.5" cy="391.5" rx="65.5" ry="61.5" fill="url(#gBtb2)"/></g>
<text x="548.57" y="398.5" font-size="22.5" fill="#fbe3ee" font-weight="normal" text-anchor="start" textLength="49.91" lengthAdjust="spacingAndGlyphs">BCL6</text>
<text x="584.10" y="337.7" font-size="22.5" fill="#fbe3ee" font-weight="normal" text-anchor="start" textLength="37.84" lengthAdjust="spacingAndGlyphs">BTB</text>
<path d="M635.3 314.9 L655.4 303.1 L668.5 295.5 L684.1 302.6 L705 311.6 L727.5 304.6 M635.3 314.9 L635.3 337.7" stroke="#222" stroke-width="1.6" fill="none"/>
<circle cx="668.5" cy="295.5" r="2.6" fill="#222"/>
<path d="M635.3 307.3 L628.7 311.1 L628.7 318.7 L635.3 322.5 L641.9 318.7 L641.9 311.1 Z" fill="#f4a52f" stroke="#222" stroke-width="1.8" stroke-linejoin="round"/>
<path d="M655.4 295.5 L648.8 299.3 L648.8 306.9 L655.4 310.7 L662 306.9 L662 299.3 Z" fill="#f4a52f" stroke="#222" stroke-width="1.8" stroke-linejoin="round"/>
<path d="M635.3 330.1 L628.7 333.9 L628.7 341.5 L635.3 345.3 L641.9 341.5 L641.9 333.9 Z" fill="#f4a52f" stroke="#222" stroke-width="1.8" stroke-linejoin="round"/>
<path d="M629.1 341.8 L622.5 345.6 L622.5 353.2 L629.1 357 L635.7 353.2 L635.7 345.6 Z" fill="#f4a52f" stroke="#222" stroke-width="1.8" stroke-linejoin="round"/>
<mask id="pm1" maskUnits="userSpaceOnUse" x="0" y="0" width="1024" height="579"><rect width="1024" height="579" fill="#fff"/><path d="M695.5 172.1 C699.4 166.8 704.7 164.7 711 164.7 C717.9 164.7 723.1 169.3 723.1 175 C723.1 180.7 717.9 184.9 712.1 184.9 L706.4 183.2 L692.6 211.1 L666.7 172.9 Z" fill="#000"/></mask><g mask="url(#pm1)"><ellipse cx="724.6" cy="151.4" rx="34" ry="38.4" transform="rotate(8 724.6 151.4)" fill="url(#gCdk)" stroke="#2a2a3c" stroke-width="2"/></g><path d="M695.5 172.1 C699.4 166.8 704.7 164.7 711 164.7 C717.9 164.7 723.1 169.3 723.1 175 C723.1 180.7 717.9 184.9 712.1 184.9 L706.4 183.2" fill="none" stroke="#2a2a3c" stroke-width="2" stroke-linejoin="miter"/>
<mask id="pm2" maskUnits="userSpaceOnUse" x="0" y="0" width="1024" height="579"><rect width="1024" height="579" fill="#fff"/><path d="M846.8 197.9 C849.3 193.1 852.6 191.8 857 191.8 C861.8 191.8 865.4 194.8 865.4 198.5 C865.4 202.2 861.8 204.9 857.8 204.9 L853.2 204.4 L843.6 221.9 L826.8 197.2 Z" fill="#000"/></mask><g mask="url(#pm2)"><ellipse cx="867.3" cy="182.6" rx="23.9" ry="27" transform="rotate(8 867.3 182.6)" fill="url(#gCdk)" stroke="#2a2a3c" stroke-width="2"/></g><path d="M846.8 197.9 C849.3 193.1 852.6 191.8 857 191.8 C861.8 191.8 865.4 194.8 865.4 198.5 C865.4 202.2 861.8 204.9 857.8 204.9 L853.2 204.4" fill="none" stroke="#2a2a3c" stroke-width="2" stroke-linejoin="miter"/>
<mask id="pm3" maskUnits="userSpaceOnUse" x="0" y="0" width="1024" height="579"><rect width="1024" height="579" fill="#fff"/><path d="M840 304.3 C844.2 299 851 297 857 297 C863.6 297 868.5 301.5 868.5 307 C868.5 312.5 863.6 316.6 858.1 316.6 L853.1 316.9 L840 342 L812.5 305 Z" fill="#000"/></mask><g mask="url(#pm3)"><ellipse cx="870.8" cy="282.4" rx="36.1" ry="40.4" transform="rotate(8 870.8 282.4)" fill="url(#gCdk)" stroke="#2a2a3c" stroke-width="2"/></g><path d="M840 304.3 C844.2 299 851 297 857 297 C863.6 297 868.5 301.5 868.5 307 C868.5 312.5 863.6 316.6 858.1 316.6 L853.1 316.9" fill="none" stroke="#2a2a3c" stroke-width="2" stroke-linejoin="miter"/>
<ellipse cx="827.5" cy="128.6" rx="14.1" ry="17" fill="url(#gCyc)" stroke="#555" stroke-width="1.5"/>
<ellipse cx="922.7" cy="222.2" rx="14" ry="16.6" fill="url(#gCyc)" stroke="#555" stroke-width="1.5"/>
<ellipse cx="796" cy="210.8" rx="25.7" ry="30" transform="rotate(-10 796 210.8)" fill="url(#gCdk)" stroke="#2a2a3c" stroke-width="2"/>
<path d="M794 170.5 L794 201.5" stroke="#222" stroke-width="1.6"/><circle cx="794" cy="201.5" r="2.6" fill="#222"/>
<text x="772.02" y="166" font-size="23.5" fill="#454545" font-weight="normal" text-anchor="start" textLength="41.50" lengthAdjust="spacingAndGlyphs">cycT</text>
<mask id="pm4" maskUnits="userSpaceOnUse" x="0" y="0" width="1024" height="579"><rect width="1024" height="579" fill="#fff"/><path d="M712.5 298.1 C719 290.9 730.5 288 738.5 288 C747.2 288 753.7 294.5 753.7 302.5 C753.7 310.5 747.2 316.4 740 316.4 L731.1 317 L713.7 353.2 L676.3 299.6 Z" fill="#000"/></mask><g mask="url(#pm4)"><ellipse cx="756.2" cy="266.7" rx="52" ry="59" transform="rotate(3 756.2 266.7)" fill="url(#gCdk)" stroke="#2a2a3c" stroke-width="2"/></g><path d="M712.5 298.1 C719 290.9 730.5 288 738.5 288 C747.2 288 753.7 294.5 753.7 302.5 C753.7 310.5 747.2 316.4 740 316.4 L731.1 317" fill="none" stroke="#2a2a3c" stroke-width="2" stroke-linejoin="miter"/>
<text x="723.61" y="272" font-size="23" fill="#333" font-weight="normal" text-anchor="start" textLength="52.52" lengthAdjust="spacingAndGlyphs">CDK9</text>
<path d="M684.1 294.4 L677 298.5 L677 306.7 L684.1 310.8 L691.2 306.7 L691.2 298.5 Z" fill="#1f72ba" stroke="#1a1a2a" stroke-width="1.8" stroke-linejoin="round"/>
<path d="M705 303.3 L697.1 309 L700.1 318.3 L709.9 318.3 L712.9 309 Z" fill="#1f72ba" stroke="#1a1a2a" stroke-width="1.6" stroke-linejoin="round"/>
<path d="M727.5 312.5 L735.4 306.8 L732.4 297.5 L722.6 297.5 L719.6 306.8 Z" fill="#1f72ba" stroke="#1a1a2a" stroke-width="1.6" stroke-linejoin="round"/>
<path d="M680.6 361 C680 350 684 340 695 332.5" fill="none" stroke="#222" stroke-width="2" stroke-dasharray="4.5 4"/>
<path d="M709.2 326.8 L694.8 328.2 L697.8 335.8 Z" fill="#222"/>
<path d="M793 315.7 C801 322 808 330 808.4 340 C808.6 346 807.5 350 806 354" fill="none" stroke="#222" stroke-width="2" stroke-dasharray="5 4"/>
<path d="M796 367 L802.2 355.6 L807.2 361 Z" fill="#222"/>
<path d="M662 379.2 L694 379.2" stroke="#3a2a10" stroke-width="1.5"/>
<circle cx="665.5" cy="379.2" r="4.7" fill="#f39a1f" stroke="#5a3a10" stroke-width="1"/>
<circle cx="675.3" cy="379.2" r="4.7" fill="#f39a1f" stroke="#5a3a10" stroke-width="1"/>
<circle cx="685.2" cy="379.2" r="4.7" fill="#f39a1f" stroke="#5a3a10" stroke-width="1"/>
<ellipse cx="714.7" cy="378.3" rx="22.7" ry="16" fill="#231f20"/>
<text x="696.09" y="386.8" font-size="23" fill="#fff" font-weight="normal" text-anchor="start" textLength="35.46" lengthAdjust="spacingAndGlyphs">ATP</text>
<path d="M784.5 384 L791.5 397" stroke="#222" stroke-width="2.8"/>
<ellipse cx="876.5" cy="423" rx="111" ry="59.5" transform="rotate(-8.5 876.5 423)" fill="url(#gPol)" stroke="#1c1c1c" stroke-width="2"/>
<text x="828.29" y="431.5" font-size="22.5" fill="#e2edf8" font-weight="normal" text-anchor="start" textLength="39.21" lengthAdjust="spacingAndGlyphs">RNA</text>
<text x="876.44" y="431.5" font-size="22.5" fill="#e2edf8" font-weight="normal" text-anchor="start" textLength="44.97" lengthAdjust="spacingAndGlyphs">Pol II</text>
<circle cx="777.8" cy="371.5" r="14.4" fill="#f39b24" stroke="#222" stroke-width="2"/>
<text x="777.80" y="379.5" font-size="21" fill="#222" font-weight="normal" text-anchor="middle">P</text>
<path d="M617.9 556.5 C622 548 628 540 634 535 C642 528 650 524 660 523 C672 522 682 524 692 525.5 C705 528 720 530 735 530.6 C752 531 768 529 783 525 C796 521 808 514 817 505 C823 499 828 491 831 483" fill="none" stroke="#2b2a6c" stroke-width="3" stroke-linecap="round"/>
<path d="M625.7 543 L616.7 540 M637 532.9 L627.5 524.4 M651.6 525 L647 509.8 M671 522.8 L671 500.3 M692 525.5 L696.5 506.4 M711.8 528.8 L714.4 516 M734.2 530.4 L734.7 521.2 M760.5 529.5 L760.5 522.8 M784 525 L781.4 516.7 M801 517.2 L792.4 508.2 M815.5 507 L801 495.8 M825.6 492.5 L814.4 485.7" stroke="#2b2a6c" stroke-width="3" fill="none"/>
<circle cx="18.2" cy="18" r="17.6" fill="#231f20"/>
<path d="M15 8.6 L20.1 8.6 L20.1 23 L22.2 23 L22.2 26.3 L12.8 26.3 L12.8 23 L15 23 L15 13.2 L12.8 13.6 L12.8 10.3 Z" fill="#fff"/>
<circle cx="339.3" cy="314.8" r="17.8" fill="#231f20"/>
<text x="339.3" y="323.2" font-size="24" font-weight="bold" fill="#fff" text-anchor="middle">2</text>
<circle cx="513" cy="201" r="17.3" fill="#231f20"/>
<text x="513" y="209.4" font-size="24" font-weight="bold" fill="#fff" text-anchor="middle">3</text>
<circle cx="867" cy="510" r="18" fill="#231f20"/>
<text x="867" y="518.4" font-size="24" font-weight="bold" fill="#fff" text-anchor="middle">4</text>
<text x="43.49" y="23.6" font-size="23" fill="#454545" font-weight="normal" text-anchor="start" textLength="169.36" lengthAdjust="spacingAndGlyphs">BCL6 epigenetically</text>
<text x="44.14" y="50.8" font-size="23" fill="#454545" font-weight="normal" text-anchor="start" textLength="158.42" lengthAdjust="spacingAndGlyphs">silences death and</text>
<text x="43.89" y="77.4" font-size="23" fill="#454545" font-weight="normal" text-anchor="start" textLength="115.87" lengthAdjust="spacingAndGlyphs">growth arrest</text>
<text x="43.89" y="104.4" font-size="23" fill="#454545" font-weight="normal" text-anchor="start" textLength="133.04" lengthAdjust="spacingAndGlyphs">genes in cancer</text>
<text x="285.31" y="32.7" font-size="22.5" fill="#454545" font-weight="normal" text-anchor="start" textLength="100.77" lengthAdjust="spacingAndGlyphs">BTB domain</text>
<text x="341.54" y="123.2" font-size="23" fill="#454545" font-weight="normal" text-anchor="start" textLength="115.12" lengthAdjust="spacingAndGlyphs">Co-repressor</text>
<text x="341.54" y="147" font-size="23" fill="#454545" font-weight="normal" text-anchor="start" textLength="73.71" lengthAdjust="spacingAndGlyphs">complex</text>
<text x="361.17" y="323.3" font-size="23" fill="#454545" font-weight="normal" text-anchor="start" textLength="160.95" lengthAdjust="spacingAndGlyphs">Inhibitors displace</text>
<text x="362.19" y="347.2" font-size="23" fill="#454545" font-weight="normal" text-anchor="start" textLength="121.92" lengthAdjust="spacingAndGlyphs">co-repressors</text>
<text x="535.83" y="209.7" font-size="23" fill="#454545" font-weight="normal" text-anchor="start" textLength="98.09" lengthAdjust="spacingAndGlyphs">CDK-TCIPs</text>
<text x="535.88" y="236.6" font-size="23" fill="#454545" font-weight="normal" text-anchor="start" textLength="138.79" lengthAdjust="spacingAndGlyphs">relocalize CDK9</text>
<text x="536.90" y="263.5" font-size="23" fill="#454545" font-weight="normal" text-anchor="start" textLength="133.09" lengthAdjust="spacingAndGlyphs">to BCL6-bound</text>
<text x="535.87" y="290.5" font-size="23" fill="#454545" font-weight="normal" text-anchor="start" textLength="93.88" lengthAdjust="spacingAndGlyphs">promoters</text>
<text x="893.45" y="517.9" font-size="23" fill="#454545" font-weight="normal" text-anchor="start" textLength="109.19" lengthAdjust="spacingAndGlyphs">Activation of</text>
<text x="892.73" y="541.5" font-size="23" fill="#454545" font-weight="normal" text-anchor="start" textLength="120.27" lengthAdjust="spacingAndGlyphs">pro-apoptotic</text>
<text x="892.67" y="564.3" font-size="23" fill="#454545" font-weight="normal" text-anchor="start" textLength="51.06" lengthAdjust="spacingAndGlyphs">genes</text>
</svg>
</body></html>
